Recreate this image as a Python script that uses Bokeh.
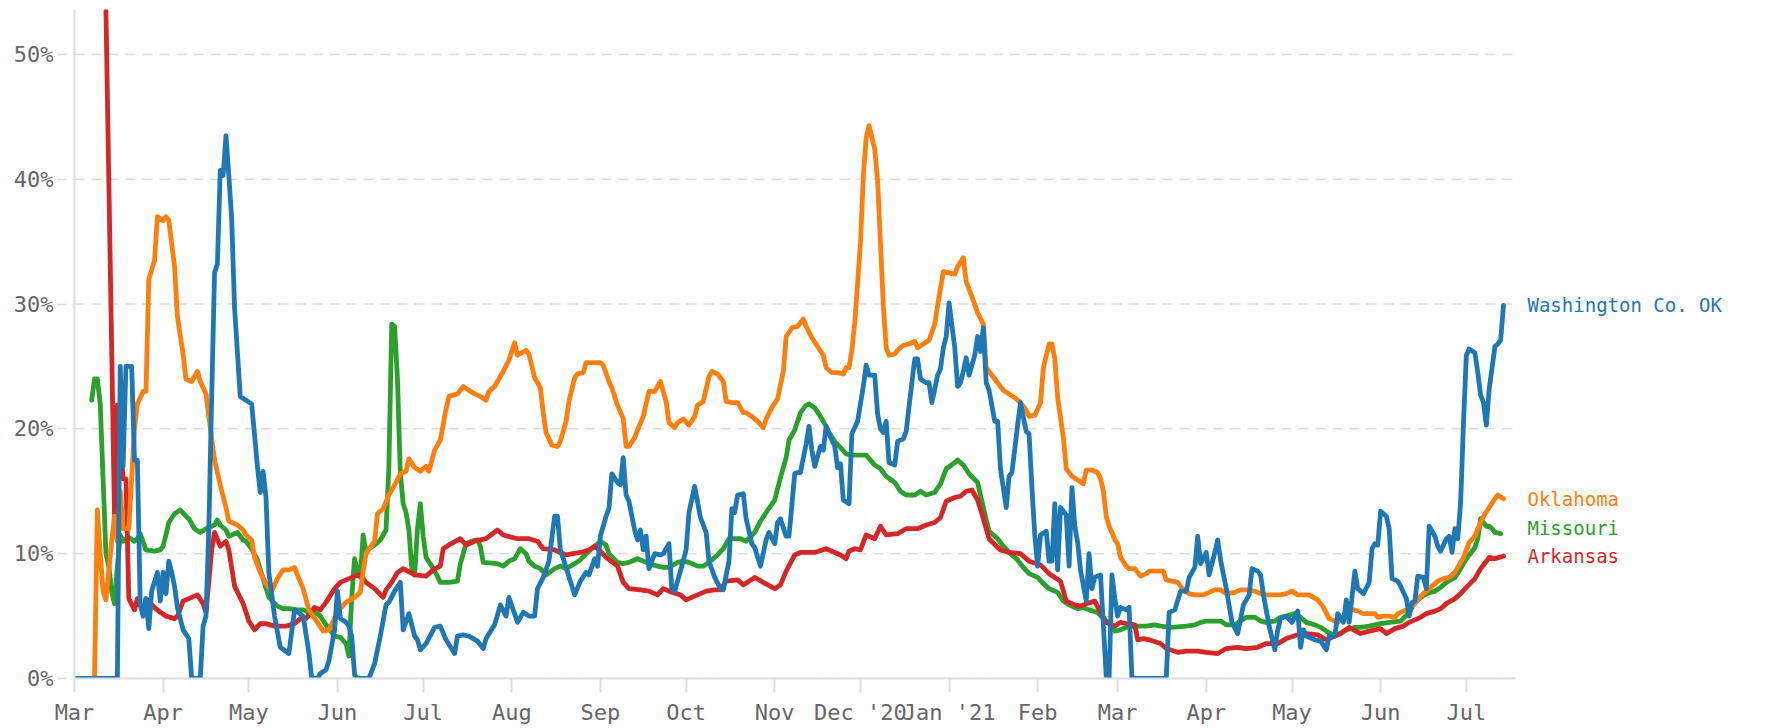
import pandas as pd
from bokeh.plotting import figure
from bokeh.models import Range1d, FixedTicker, PrintfTickFormatter, Label
from bokeh.embed import file_html
from bokeh.resources import INLINE

START = "2020-03-01"

month_ticks = ["2020-03-01", "2020-04-01", "2020-05-01", "2020-06-01", "2020-07-01",
               "2020-08-01", "2020-09-01", "2020-10-01", "2020-11-01", "2020-12-01",
               "2021-01-01", "2021-02-01", "2021-03-01", "2021-04-01", "2021-05-01",
               "2021-06-01", "2021-07-01"]
month_labels = ["Mar", "Apr", "May", "Jun", "Jul", "Aug", "Sep", "Oct", "Nov",
                "Dec '20", "Jan '21", "Feb", "Mar", "Apr", "May", "Jun", "Jul"]
y_ticks = [0, 10, 20, 30, 40, 50]

# days since 2020-03-01, positive-test rate (%)
wash_day = [0, 15, 16, 17, 18, 20, 21, 22, 23, 24, 25, 26, 27, 29, 30, 31, 32, 33, 34, 35, 36, 38, 40, 41, 44,
            45, 46, 47, 48, 49, 50, 51, 52, 53, 54, 55, 56, 58, 60, 62, 64, 65, 66, 67, 68, 70, 72, 75, 77, 80,
            82, 83, 85, 86, 88, 89, 91, 92, 93, 95, 96, 97, 98, 99, 103, 105, 106, 107, 109, 110, 112, 114, 115,
            117, 119, 120, 121, 123, 126, 128, 130, 133, 134, 136, 138, 141, 143, 144, 147, 149, 151, 152, 155,
            157, 159, 161, 162, 164, 166, 168, 169, 170, 172, 175, 177, 179, 180, 182, 183, 184, 186, 187, 188,
            190, 191, 192, 193, 194, 196, 197, 198, 199, 200, 201, 203, 205, 206, 208, 209, 210, 212, 214, 215,
            217, 219, 221, 222, 224, 226, 227, 229, 230, 231, 232, 234, 235, 237, 238, 240, 242, 243, 245, 246,
            247, 249, 250, 252, 253, 254, 256, 257, 258, 259, 261, 262, 263, 264, 266, 267, 268, 269, 271, 272,
            274, 276, 277, 278, 280, 281, 282, 283, 284, 285, 287, 288, 290, 291, 292, 294, 295, 296, 298, 299,
            300, 302, 303, 304, 305, 306, 308, 309, 310, 311, 312, 313, 315, 316, 317, 318, 319, 320, 322, 323,
            324, 326, 327, 328, 330, 331, 333, 334, 335, 336, 337, 338, 340, 341, 342, 343, 344, 345, 347, 348,
            349, 350, 351, 352, 354, 355, 356, 357, 359, 361, 362, 363, 364, 365, 366, 368, 369, 370, 382, 383,
            385, 387, 389, 390, 392, 393, 394, 396, 397, 399, 400, 401, 403, 405, 407, 409, 411, 412, 414, 415,
            416, 418, 420, 421, 422, 424, 426, 428, 429, 430, 431, 434, 436, 438, 439, 441, 442, 444, 445, 446,
            448, 449, 451, 453, 454, 455, 456, 457, 459, 460, 461, 463, 464, 466, 467, 468, 469, 470, 472, 473,
            474, 476, 477, 478, 480, 481, 482, 483, 484, 485, 486, 487, 488, 490, 491, 492, 493, 494, 495, 497,
            498, 499, 500]
wash_pct = [0, 0, 25.0, 17.0, 25.0, 25.0, 17.5, 17.5, 6.0, 5.0, 6.4, 4.0, 7.0, 8.5, 6.2, 8.5, 6.8, 9.4, 8.5, 7.4,
            5.7, 3.9, 3.2, 0, 0, 4.2, 5.0, 12.0, 22.6, 32.5, 33.2, 40.7, 40.3, 43.5, 40.3, 36.8, 29.7, 22.6, 22.3,
            22.0, 17.0, 14.9, 16.6, 14.5, 8.5, 5.0, 2.5, 2.0, 5.5, 5.0, 2.1, 0, 0, 0.4, 0.7, 1.4, 3.9, 7.0, 4.8,
            4.5, 4.2, 3.4, 0.3, 0, 0, 1.2, 2.3, 3.4, 5.9, 6.1, 7.0, 7.7, 3.9, 5.2, 3.4, 3.1, 2.3, 2.8, 4.1, 4.2,
            3.1, 2.0, 3.4, 3.5, 3.4, 3.0, 2.4, 3.2, 4.3, 5.9, 5.0, 6.5, 4.5, 5.3, 5.0, 5.0, 7.2, 8.1, 9.4, 13.0,
            13.0, 10.3, 8.9, 6.7, 7.8, 8.5, 8.3, 9.6, 9.0, 11.4, 13.0, 13.6, 16.4, 15.7, 15.5, 17.7, 14.7, 14.2,
            11.9, 11.1, 11.9, 10.3, 11.4, 8.8, 10.0, 9.9, 10.0, 10.8, 7.2, 7.0, 8.6, 10.3, 13.3, 15.4, 12.9, 11.7,
            9.4, 8.1, 7.2, 7.1, 9.4, 13.6, 13.3, 14.7, 14.8, 12.8, 10.8, 10.5, 9.0, 11.1, 11.7, 10.8, 12.5, 12.8,
            11.4, 11.4, 16.4, 16.5, 16.5, 18.8, 20.2, 18.3, 17.0, 18.6, 18.3, 20.2, 19.6, 18.6, 16.9, 17.2, 14.3,
            14.0, 19.6, 20.6, 23.4, 25.1, 24.3, 24.3, 21.2, 20.0, 19.7, 20.6, 17.3, 17.1, 19.0, 19.2, 19.8, 21.8,
            25.6, 25.6, 24.0, 23.7, 23.7, 22.1, 24.3, 24.8, 26.5, 27.4, 30.1, 26.5, 23.4, 23.7, 24.6, 25.7, 24.3,
            25.9, 27.4, 26.2, 28.1, 23.7, 23.1, 20.6, 20.6, 16.8, 13.7, 16.2, 16.5, 20.3, 22.1, 19.8, 19.6, 15.3,
            11.5, 9.0, 11.5, 11.8, 9.4, 9.4, 14.0, 8.7, 13.7, 13.1, 9.0, 15.3, 12.2, 10.9, 8.7, 6.2, 10.0, 7.2,
            8.1, 8.3, 0.2, 0, 8.3, 6.4, 5.0, 5.7, 5.5, 5.7, 0, 0, 5.3, 5.5, 7.0, 7.0, 8.1, 8.9, 11.4, 9.2, 10.1,
            8.3, 10.1, 11.1, 9.5, 7.2, 4.5, 3.6, 5.9, 6.7, 8.8, 8.6, 8.3, 6.7, 4.2, 2.3, 3.9, 4.8, 5.0, 4.5, 5.4,
            2.5, 3.9, 3.4, 3.1, 3.0, 2.3, 3.4, 3.4, 5.2, 4.5, 6.3, 4.5, 8.6, 7.2, 6.8, 7.7, 10.4, 10.8, 10.7,
            13.4, 13.0, 12.0, 8.0, 7.8, 7.4, 6.4, 5.0, 6.1, 6.2, 8.2, 8.1, 7.2, 12.2, 11.4, 10.6, 10.2, 11.2,
            11.4, 10.1, 12.0, 11.2, 14.1, 20.5, 25.9, 26.4, 26.1, 24.5, 22.7, 22.1, 20.3, 23.2, 26.6, 26.8, 27.1,
            29.9]

ok_day = [7, 8, 9, 10, 11, 13, 14, 15, 16, 17, 19, 20, 21, 22, 24, 25, 26, 28, 29, 31, 32, 33, 35, 36, 38, 39,
          41, 43, 44, 46, 47, 49, 51, 53, 54, 57, 59, 60, 62, 63, 65, 67, 69, 71, 73, 75, 77, 78, 80, 82, 85, 87,
          89, 91, 93, 95, 98, 100, 101, 102, 105, 106, 108, 110, 112, 114, 116, 117, 119, 121, 123, 124, 126,
          128, 130, 131, 134, 136, 138, 140, 142, 144, 145, 147, 150, 152, 154, 155, 158, 159, 161, 163, 164,
          165, 167, 169, 170, 172, 173, 175, 176, 178, 179, 182, 184, 185, 187, 188, 190, 192, 193, 194, 196,
          197, 199, 201, 203, 205, 207, 208, 210, 211, 213, 215, 217, 218, 220, 222, 223, 225, 227, 228, 230,
          232, 234, 235, 237, 239, 241, 242, 244, 246, 248, 249, 251, 253, 255, 256, 258, 260, 262, 263, 265,
          267, 269, 270, 271, 272, 273, 275, 276, 277, 278, 280, 281, 282, 283, 284, 285, 287, 288, 290, 292,
          294, 295, 297, 299, 301, 302, 304, 306, 308, 309, 311, 312, 314, 316, 318, 319, 321, 323, 325, 327,
          329, 331, 333, 334, 336, 338, 339, 341, 342, 343, 344, 346, 347, 349, 351, 353, 354, 356, 358, 359,
          360, 361, 362, 363, 364, 365, 366, 368, 369, 371, 373, 375, 376, 379, 381, 382, 384, 386, 388, 390,
          392, 395, 396, 399, 401, 403, 406, 408, 410, 413, 415, 417, 420, 422, 424, 426, 428, 430, 432, 435,
          437, 439, 442, 444, 446, 449, 451, 453, 455, 456, 458, 460, 462, 463, 465, 467, 469, 471, 473, 475,
          477, 479, 481, 483, 484, 486, 488, 490, 491, 493, 495, 497, 498, 500]
ok_pct = [0, 13.5, 10.0, 7.0, 6.3, 11.0, 13.0, 11.0, 15.0, 12.0, 12.0, 16.0, 20.0, 22.0, 23.0, 23.0, 32.0, 33.5,
          37.0, 36.7, 37.0, 36.7, 33.0, 29.0, 26.0, 24.0, 23.8, 24.6, 23.8, 22.8, 21.0, 17.5, 15.5, 13.7, 12.6,
          12.3, 11.9, 11.5, 11.1, 9.7, 8.5, 7.6, 7.0, 8.0, 8.7, 8.7, 8.9, 8.3, 7.2, 5.5, 4.5, 3.8, 3.9, 4.8,
          5.6, 6.1, 6.5, 6.9, 8.6, 10.0, 11.0, 13.2, 13.6, 14.7, 15.5, 16.4, 16.6, 17.6, 16.9, 16.6, 17.0, 16.6,
          18.3, 19.1, 21.6, 22.6, 22.8, 23.4, 23.1, 22.8, 22.6, 22.3, 23.0, 23.4, 24.6, 25.5, 26.9, 25.9, 26.3,
          26.0, 24.1, 23.3, 21.3, 19.7, 18.7, 18.6, 19.0, 20.6, 22.2, 24.1, 24.4, 24.5, 25.3, 25.3, 25.3, 25.1,
          23.8, 23.3, 21.9, 20.8, 18.6, 18.6, 19.3, 19.9, 21.0, 23.0, 23.0, 23.8, 22.2, 20.5, 20.1, 20.5, 20.8,
          20.3, 21.0, 21.9, 22.2, 24.2, 24.6, 24.4, 23.8, 22.2, 22.1, 22.1, 21.3, 21.3, 21.0, 20.6, 20.1, 20.8,
          21.7, 22.4, 24.6, 27.4, 28.1, 28.2, 28.8, 28.2, 27.3, 26.6, 25.9, 24.9, 24.5, 24.5, 24.4, 24.9, 24.9,
          26.3, 28.5, 34.9, 40.2, 43.3, 44.3, 42.4, 39.9, 34.9, 29.9, 26.5, 25.9, 26.0, 26.3, 26.7, 26.8, 27.0,
          26.5, 26.8, 27.1, 28.4, 29.9, 32.6, 32.5, 32.4, 33.0, 33.7, 31.8, 30.6, 29.3, 28.4, 24.9, 24.3, 23.7,
          23.1, 22.8, 22.5, 22.1, 21.5, 21.0, 21.1, 22.1, 24.9, 26.8, 26.8, 25.6, 22.5, 19.3, 16.8, 16.2, 15.9,
          15.6, 16.7, 16.7, 16.5, 16.0, 15.0, 13.0, 12.2, 11.7, 11.1, 10.8, 9.7, 9.0, 8.8, 8.8, 8.2, 8.4, 8.6,
          8.6, 8.6, 7.9, 7.8, 7.7, 7.1, 6.8, 6.7, 6.7, 6.8, 7.1, 7.1, 6.8, 6.9, 7.1, 7.1, 7.0, 6.8, 6.7, 6.7,
          6.7, 6.8, 7.0, 6.7, 6.7, 6.7, 6.3, 5.7, 4.8, 4.5, 4.8, 5.6, 5.4, 5.2, 5.2, 5.2, 4.9, 5.0, 5.0, 4.9,
          5.2, 5.4, 5.6, 6.0, 6.6, 7.0, 7.4, 7.8, 8.0, 8.1, 8.5, 8.9, 9.7, 10.9, 11.4, 12.0, 13.0, 13.7, 14.4,
          14.7, 14.4]

mo_day = [6, 7, 8, 9, 10, 11, 12, 13, 14, 15, 16, 17, 19, 21, 22, 23, 25, 28, 30, 31, 32, 33, 35, 37, 39, 40,
          42, 44, 46, 49, 50, 51, 53, 54, 57, 59, 60, 62, 64, 66, 68, 71, 73, 75, 78, 80, 82, 85, 86, 88, 91,
          93, 95, 96, 97, 98, 99, 100, 101, 102, 103, 105, 107, 109, 110, 111, 112, 113, 114, 115, 116, 117,
          118, 119, 120, 121, 122, 123, 125, 127, 128, 131, 134, 135, 137, 139, 141, 142, 143, 148, 150, 152,
          154, 156, 158, 159, 161, 163, 165, 168, 170, 172, 175, 177, 179, 182, 184, 186, 187, 190, 192, 194,
          197, 199, 201, 204, 206, 208, 211, 213, 215, 218, 220, 222, 225, 227, 229, 233, 235, 238, 240, 242,
          245, 247, 249, 250, 252, 254, 256, 257, 259, 261, 263, 264, 266, 268, 270, 272, 275, 277, 280, 282,
          284, 287, 289, 291, 294, 296, 298, 301, 303, 305, 308, 309, 311, 313, 316, 318, 320, 323, 325, 327,
          330, 332, 334, 337, 339, 341, 344, 346, 348, 351, 353, 355, 358, 360, 362, 364, 366, 368, 371, 375,
          378, 380, 384, 389, 392, 394, 396, 401, 403, 406, 408, 410, 413, 415, 417, 420, 422, 424, 427, 429,
          431, 434, 436, 438, 441, 443, 445, 448, 450, 453, 457, 460, 464, 467, 469, 471, 473, 476, 478, 480,
          483, 485, 487, 490, 491, 492, 494, 495, 496, 497, 499]
mo_pct = [22.3, 24.0, 24.0, 22.0, 16.0, 10.0, 9.0, 7.0, 6.0, 9.0, 11.5, 11.0, 11.3, 11.0, 11.2, 11.6, 10.3, 10.2,
          10.3, 10.6, 11.5, 12.5, 13.2, 13.5, 13.0, 12.8, 12.0, 11.7, 12.0, 12.3, 12.7, 12.3, 11.9, 11.4, 11.7,
          11.1, 11.0, 10.4, 9.5, 8.0, 6.5, 5.8, 5.6, 5.6, 5.5, 5.5, 5.3, 5.2, 5.0, 4.3, 3.4, 3.3, 2.8, 1.8, 6.5,
          9.6, 8.6, 8.1, 11.5, 10.0, 10.4, 10.7, 11.1, 11.9, 17.0, 28.4, 28.2, 24.0, 16.5, 14.0, 13.3, 11.9, 8.8,
          8.3, 12.0, 14.0, 11.4, 9.7, 9.0, 8.2, 7.7, 7.7, 7.8, 9.2, 10.8, 11.0, 11.1, 10.6, 9.3, 9.2, 9.0, 9.4,
          9.6, 10.4, 10.0, 9.4, 9.0, 8.8, 8.3, 8.8, 9.0, 8.8, 9.2, 9.5, 10.0, 10.6, 11.0, 10.7, 10.0, 9.3, 9.2,
          9.3, 9.6, 9.4, 9.2, 9.0, 8.9, 8.9, 9.3, 9.4, 9.3, 9.0, 9.0, 9.3, 9.9, 10.4, 11.2, 11.2, 11.0, 11.7,
          12.6, 13.3, 14.3, 16.1, 17.7, 19.1, 19.9, 21.3, 21.9, 22.0, 21.7, 21.0, 20.2, 19.7, 19.0, 18.5, 18.0,
          17.9, 17.9, 17.9, 17.1, 16.8, 16.2, 15.7, 15.0, 14.7, 14.7, 15.0, 14.7, 14.9, 15.6, 16.8, 17.3, 17.5,
          17.1, 16.4, 15.7, 13.7, 11.8, 11.2, 10.6, 10.1, 9.5, 8.9, 8.4, 8.1, 7.6, 7.2, 6.9, 6.2, 5.9, 5.6, 5.7,
          5.5, 5.3, 4.8, 4.4, 3.8, 3.9, 4.1, 4.2, 4.2, 4.3, 4.2, 4.1, 4.2, 4.3, 4.5, 4.6, 4.6, 4.3, 4.3, 4.6,
          4.9, 4.9, 4.6, 4.5, 4.6, 4.9, 5.0, 5.2, 4.9, 4.5, 4.3, 4.1, 3.8, 3.4, 3.6, 3.9, 4.1, 4.1, 4.2, 4.4,
          4.5, 4.6, 5.3, 6.1, 6.5, 6.8, 7.0, 7.3, 7.7, 8.1, 8.8, 9.6, 10.5, 11.2, 12.8, 12.2, 12.2, 12.0, 11.7,
          11.6]

ar_day = [11, 14, 15, 17, 18, 19, 21, 22, 24, 25, 28, 30, 32, 35, 36, 38, 40, 43, 45, 46, 48, 49, 51, 53, 54,
          56, 59, 61, 63, 65, 67, 70, 72, 74, 77, 79, 81, 84, 86, 88, 91, 93, 95, 98, 100, 102, 105, 108, 109,
          111, 113, 115, 119, 123, 126, 128, 129, 131, 135, 137, 140, 144, 148, 150, 155, 159, 162, 164, 168,
          172, 177, 180, 182, 184, 186, 190, 192, 194, 198, 201, 204, 206, 208, 212, 214, 218, 221, 224, 226,
          228, 232, 234, 238, 241, 245, 247, 249, 252, 254, 259, 263, 268, 270, 271, 273, 275, 277, 280, 282,
          284, 288, 291, 295, 298, 301, 303, 305, 308, 310, 312, 314, 316, 318, 320, 324, 327, 331, 334, 338,
          341, 345, 347, 350, 352, 354, 357, 359, 361, 364, 366, 368, 371, 372, 374, 376, 380, 382, 386, 389,
          393, 396, 400, 403, 407, 410, 414, 417, 421, 424, 428, 431, 435, 438, 441, 443, 446, 450, 453, 457,
          459, 462, 465, 467, 471, 473, 476, 478, 480, 483, 485, 487, 490, 492, 494, 495, 497, 500]
ar_pct = [53.5, 13.0, 21.9, 16.0, 16.0, 6.4, 5.5, 6.4, 5.3, 6.4, 5.7, 5.3, 5.0, 4.8, 5.0, 6.2, 6.4, 6.7, 6.0,
          5.3, 10.3, 11.7, 10.6, 11.0, 10.3, 7.4, 6.0, 4.6, 3.9, 4.4, 4.4, 4.2, 4.2, 4.2, 4.4, 4.8, 4.8, 5.7,
          5.5, 6.1, 7.2, 7.7, 7.9, 8.2, 8.3, 7.7, 7.2, 6.5, 7.1, 7.7, 8.5, 8.8, 8.3, 8.2, 8.8, 9.0, 10.4, 10.7,
          11.2, 10.7, 11.0, 11.2, 11.9, 11.5, 11.2, 11.2, 11.0, 10.4, 10.3, 9.9, 10.1, 10.3, 10.6, 10.2, 9.7,
          9.0, 7.7, 7.2, 7.1, 7.0, 6.7, 7.2, 7.0, 6.7, 6.3, 6.7, 7.0, 7.1, 7.1, 7.8, 7.9, 7.5, 8.1, 7.7, 7.2,
          7.5, 8.6, 9.9, 10.1, 10.1, 10.4, 9.9, 9.6, 10.2, 10.4, 10.3, 11.5, 11.2, 12.2, 11.5, 11.6, 12.0, 12.0,
          12.3, 12.5, 12.9, 14.2, 14.5, 14.6, 15.0, 15.1, 14.3, 12.8, 11.2, 10.3, 10.1, 10.0, 9.4, 9.1, 8.4, 7.8,
          6.2, 5.9, 5.8, 6.0, 6.2, 5.3, 4.5, 4.2, 4.5, 4.4, 4.3, 3.1, 3.2, 3.1, 2.8, 2.4, 2.1, 2.2, 2.2, 2.1,
          2.0, 2.4, 2.5, 2.4, 2.5, 2.8, 2.8, 3.2, 3.5, 3.6, 3.5, 3.1, 3.4, 3.6, 4.1, 3.6, 3.8, 4.0, 3.6, 4.0,
          4.2, 4.5, 4.9, 5.2, 5.4, 5.6, 6.0, 6.4, 6.8, 7.3, 8.0, 8.8, 9.4, 9.7, 9.6, 9.8]

series = [
    ("Missouri", mo_day, mo_pct, "#2ca02c"),
    ("Arkansas", ar_day, ar_pct, "#d62728"),
    ("Oklahoma", ok_day, ok_pct, "#ff7f0e"),
    ("Washington Co. OK", wash_day, wash_pct, "#1f77b4"),
]
label_nudge = {"Missouri": 6}

start = pd.Timestamp(START)
tick_days = [int((pd.Timestamp(d) - start).days) for d in month_ticks]
last_day = max(d[-1] for _, d, _, _ in series)

FONT = "DejaVu Sans Mono"
GRID = "#dddddd"

X_END = 504.2          # right edge of the plotted period (days)
FRAME_W = 1686         # frame also carries the end labels on the right
PLOT_W = 1441          # width of the gridded area
x_view_end = X_END * FRAME_W / PLOT_W

p = figure(frame_width=FRAME_W, frame_height=669,
           x_range=Range1d(0, x_view_end), y_range=Range1d(0, 53.6),
           output_backend="svg", toolbar_location=None,
           min_border_left=74, min_border_right=4, min_border_top=9, min_border_bottom=46)
p.outline_line_color = None
p.background_fill_color = "white"
p.border_fill_color = "white"

p.xgrid.visible = False
p.ygrid.visible = False
# dashed horizontal grid lines over the gridded area only
p.segment(x0=[0] * len(y_ticks), x1=[X_END] * len(y_ticks), y0=y_ticks, y1=y_ticks,
          line_color=GRID, line_width=1.5, line_dash="10 7")

xa = p.xaxis[0]
xa.ticker = FixedTicker(ticks=tick_days)
xa.bounds = (0, X_END)
xa.major_label_overrides = {d: lbl for d, lbl in zip(tick_days, month_labels)}
xa.axis_line_color = GRID
xa.axis_line_width = 2
xa.major_tick_line_color = GRID
xa.major_tick_line_width = 2
xa.major_tick_out = 14
xa.major_tick_in = 0
xa.minor_tick_out = 0
xa.minor_tick_in = 0
xa.major_label_standoff = 7
xa.major_label_text_font = FONT
xa.major_label_text_font_size = "22px"
xa.major_label_text_color = "#666666"

ya = p.yaxis[0]
ya.ticker = FixedTicker(ticks=y_ticks)
ya.formatter = PrintfTickFormatter(format="%d%%")
ya.axis_line_color = GRID
ya.axis_line_width = 2
ya.major_tick_line_color = GRID
ya.major_tick_line_width = 1.5
ya.major_tick_line_dash = "9 6"
ya.major_tick_out = 17
ya.major_tick_in = 0
ya.minor_tick_out = 0
ya.minor_tick_in = 0
ya.major_label_standoff = 4
ya.major_label_text_font = FONT
ya.major_label_text_font_size = "22px"
ya.major_label_text_color = "#666666"

for name, days, vals, color in series:
    p.line(days, vals, line_color=color, line_width=4.8, line_join="round", line_cap="round")

for name, days, vals, color in series:
    p.add_layout(Label(x=last_day, y=vals[-1], x_offset=24, y_offset=label_nudge.get(name, 0),
                       text=name, text_color=color, text_font=FONT, text_font_size="19px",
                       text_baseline="middle", text_align="left"))

open("out.html", "w").write(file_html(p, INLINE))
